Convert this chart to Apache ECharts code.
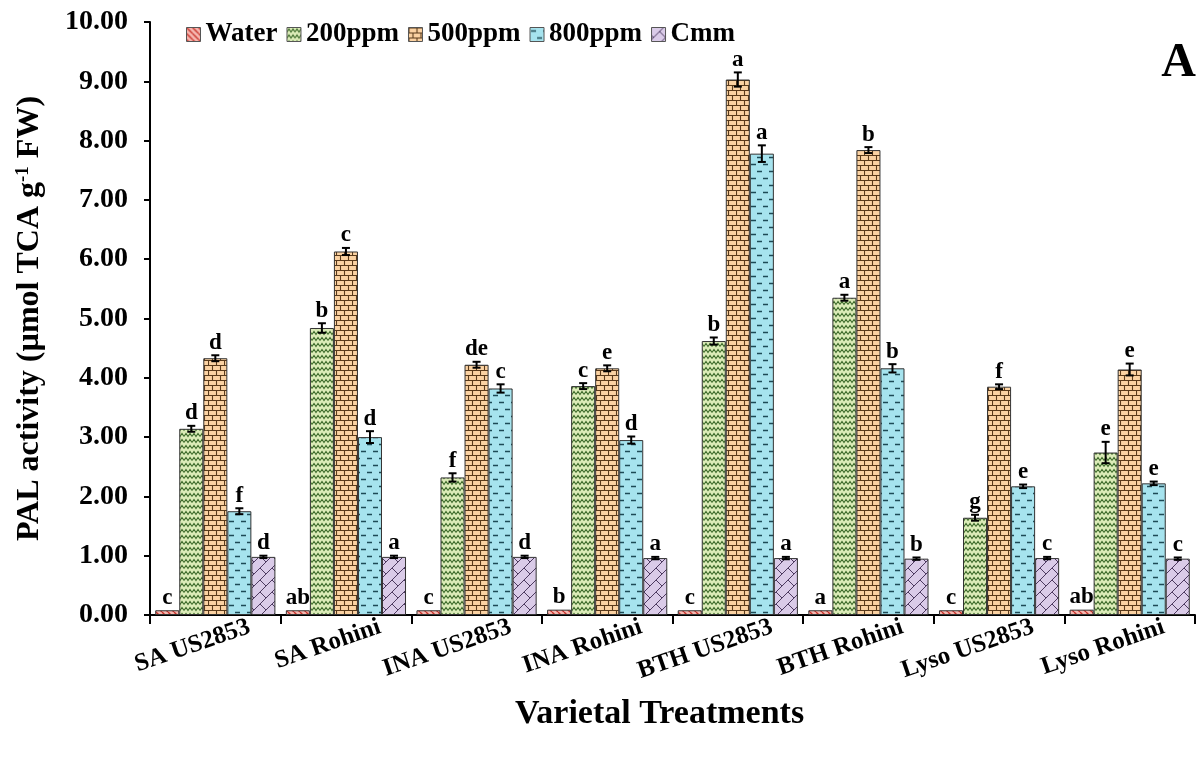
<!DOCTYPE html>
<html><head><meta charset="utf-8">
<script src="https://cdn.jsdelivr.net/npm/echarts@6/dist/echarts.min.js"></script>
<style>html,body{margin:0;padding:0;background:#fff}#c{width:1200px;height:760px}</style>
</head><body><div id="c"></div>
<script>
const categories = ['SA US2853','SA Rohini','INA US2853','INA Rohini','BTH US2853','BTH Rohini','Lyso US2853','Lyso Rohini'];
const seriesNames = ['Water','200ppm','500ppm','800ppm','Cmm'];
const water   = [0.08,0.08,0.08,0.09,0.08,0.08,0.08,0.09];
const ppm200  = [3.14,4.84,2.32,3.86,4.62,5.35,1.64,2.74];
const ppm500  = [4.33,6.13,4.22,4.16,9.03,7.84,3.85,4.14];
const ppm800  = [1.75,3.00,3.82,2.95,7.78,4.16,2.17,2.22];
const cmm     = [0.98,0.98,0.98,0.96,0.96,0.95,0.96,0.95];
const errWater  = [0,0,0,0,0,0,0,0];
const err200    = [0.05,0.08,0.07,0.05,0.06,0.05,0.05,0.18];
const err500    = [0.05,0.06,0.05,0.05,0.12,0.05,0.04,0.10];
const err800    = [0.05,0.10,0.07,0.06,0.14,0.07,0.03,0.03];
const errCmm    = [0.02,0.02,0.02,0.02,0.02,0.02,0.02,0.02];
const letWater  = ['c','ab','c','b','c','a','c','ab'];
const let200    = ['d','b','f','c','b','a','g','e'];
const let500    = ['d','c','de','e','a','b','f','e'];
const let800    = ['f','d','c','d','a','b','e','e'];
const letCmm    = ['d','a','d','a','a','b','c','c'];
const yTicks = [0,1,2,3,4,5,6,7,8,9,10];

const values = [water, ppm200, ppm500, ppm800, cmm];
const errors = [errWater, err200, err500, err800, errCmm];
const letters = [letWater, let200, let500, let800, letCmm];

function tile(w,h,bg,draw){
  const c=document.createElement('canvas');c.width=w;c.height=h;
  const g=c.getContext('2d');g.fillStyle=bg;g.fillRect(0,0,w,h);draw(g);return c;
}
const pWater = tile(6,6,'#f6b8b1',g=>{g.strokeStyle='#c8322a';g.lineWidth=1.4;
  for(let k=-6;k<=12;k+=6){g.beginPath();g.moveTo(k,0);g.lineTo(k+6,6);g.stroke();}});
const p200 = tile(8,6,'#dcecb8',g=>{g.strokeStyle='#3c6a2a';g.lineWidth=1.1;
  g.beginPath();g.moveTo(0,4.5);g.lineTo(2,1.5);g.lineTo(4,4.5);g.lineTo(6,1.5);g.lineTo(8,4.5);g.stroke();});
const p500 = tile(16,10,'#fbd2a2',g=>{g.strokeStyle='#5a3a1a';g.lineWidth=1.1;
  g.beginPath();g.moveTo(0,0.5);g.lineTo(16,0.5);g.moveTo(0,5.5);g.lineTo(16,5.5);
  g.moveTo(0.5,0);g.lineTo(0.5,5);g.moveTo(8.5,0);g.lineTo(8.5,5);
  g.moveTo(4.5,5);g.lineTo(4.5,10);g.moveTo(12.5,5);g.lineTo(12.5,10);g.stroke();});
const p800 = tile(12,14,'#a6e3ee',g=>{g.strokeStyle='#1d4a56';g.lineWidth=1.5;
  g.beginPath();g.moveTo(1,3.5);g.lineTo(6,3.5);g.moveTo(7,10.5);g.lineTo(12,10.5);g.stroke();});
const pCmm = tile(12,12,'#dacbe8',g=>{g.strokeStyle='#4d3a60';g.lineWidth=1;
  g.beginPath();
  for(let k=-12;k<=24;k+=12){g.moveTo(k,12);g.lineTo(k+12,0);}
  g.moveTo(8,4);g.lineTo(14,10);g.moveTo(-4,4);g.lineTo(2,10);
  g.stroke();});
const patterns = [pWater,p200,p500,p800,pCmm];

const FONT = '"Liberation Serif","Times New Roman",serif';
const GAPFRAC = 0.08;

const series = [];
seriesNames.forEach((name,i)=>{
  series.push({
    name:name,type:'bar',data:values[i],barGap:'0%',barCategoryGap:(GAPFRAC*100)+'%',
    itemStyle:{color:{image:patterns[i],repeat:'repeat'},borderColor:'#333',borderWidth:1},
    emphasis:{disabled:true},animation:false
  });
});
seriesNames.forEach((name,i)=>{
  series.push({
    type:'custom',name:name+'_err',animation:false,silent:true,z:5,
    data:categories.map((c,j)=>[j,values[i][j],errors[i][j]]),
    encode:{x:0,y:1},
    renderItem:function(params,api){
      const j=api.value(0),v=api.value(1),e=api.value(2),lt=letters[i][j];
      const catW=api.size([1,0])[0];
      const groupW=catW*(1-GAPFRAC);
      const bw=groupW/5;
      const cx=api.coord([j,0])[0]-groupW/2+(i+0.5)*bw;
      const top=api.coord([j,v+e])[1];
      const bot=api.coord([j,v-e])[1];
      const children=[];
      if(e>0){
        const cap=4;
        children.push({type:'line',shape:{x1:cx,y1:top,x2:cx,y2:bot},style:{stroke:'#000',lineWidth:2}});
        children.push({type:'line',shape:{x1:cx-cap,y1:top,x2:cx+cap,y2:top},style:{stroke:'#000',lineWidth:2}});
        children.push({type:'line',shape:{x1:cx-cap,y1:bot,x2:cx+cap,y2:bot},style:{stroke:'#000',lineWidth:2}});
      }
      children.push({type:'text',x:cx,y:top-1,style:{text:lt,fill:'#000',font:'bold 23px '+FONT,textAlign:'center',textVerticalAlign:'bottom'}});
      return {type:'group',children:children};
    }
  });
});

const chart = echarts.init(document.getElementById('c'),null,{renderer:'canvas'});
chart.setOption({
  backgroundColor:'#fff',
  animation:false,
  grid:{left:150,right:5,top:22,bottom:145},
  legend:{data:seriesNames,top:16,left:181,itemWidth:14,itemHeight:14,itemGap:9,icon:'rect',
    textStyle:{fontFamily:FONT,fontWeight:'bold',fontSize:27,color:'#000'},
    itemStyle:{borderColor:'#555',borderWidth:1}},
  xAxis:{type:'category',data:categories,
    axisLine:{lineStyle:{color:'#000',width:2}},
    axisTick:{show:true,length:9,lineStyle:{color:'#000',width:2}},
    axisLabel:{rotate:19,margin:23,align:'right',padding:[0,-36,0,0],fontFamily:FONT,fontWeight:'bold',fontSize:25,color:'#000',interval:0},
    name:'Varietal Treatments',nameLocation:'middle',nameGap:82,
    nameTextStyle:{fontFamily:FONT,fontWeight:'bold',fontSize:34,color:'#000',padding:[0,26,0,0]}},
  yAxis:{type:'value',min:yTicks[0],max:yTicks[yTicks.length-1],interval:1,
    axisLine:{show:true,lineStyle:{color:'#000',width:2}},
    axisTick:{show:true,length:6,lineStyle:{color:'#000',width:2}},
    splitLine:{show:false},
    axisLabel:{formatter:v=>v.toFixed(2),fontFamily:FONT,fontWeight:'bold',fontSize:28,color:'#000',margin:22},
    name:'{a|PAL activity (µmol TCA g}{s|-1}{a| FW)}',nameLocation:'middle',nameGap:104,
    nameTextStyle:{rich:{a:{fontFamily:FONT,fontWeight:'bold',fontSize:32,color:'#000'},
      s:{fontFamily:FONT,fontWeight:'bold',fontSize:19,color:'#000',verticalAlign:'top',padding:[0,0,12,0]}}}},
  graphic:[{type:'text',right:4,top:40,style:{text:'A',font:'bold 48px '+FONT,fill:'#000'}}],
  series:series
});
</script></body></html>
